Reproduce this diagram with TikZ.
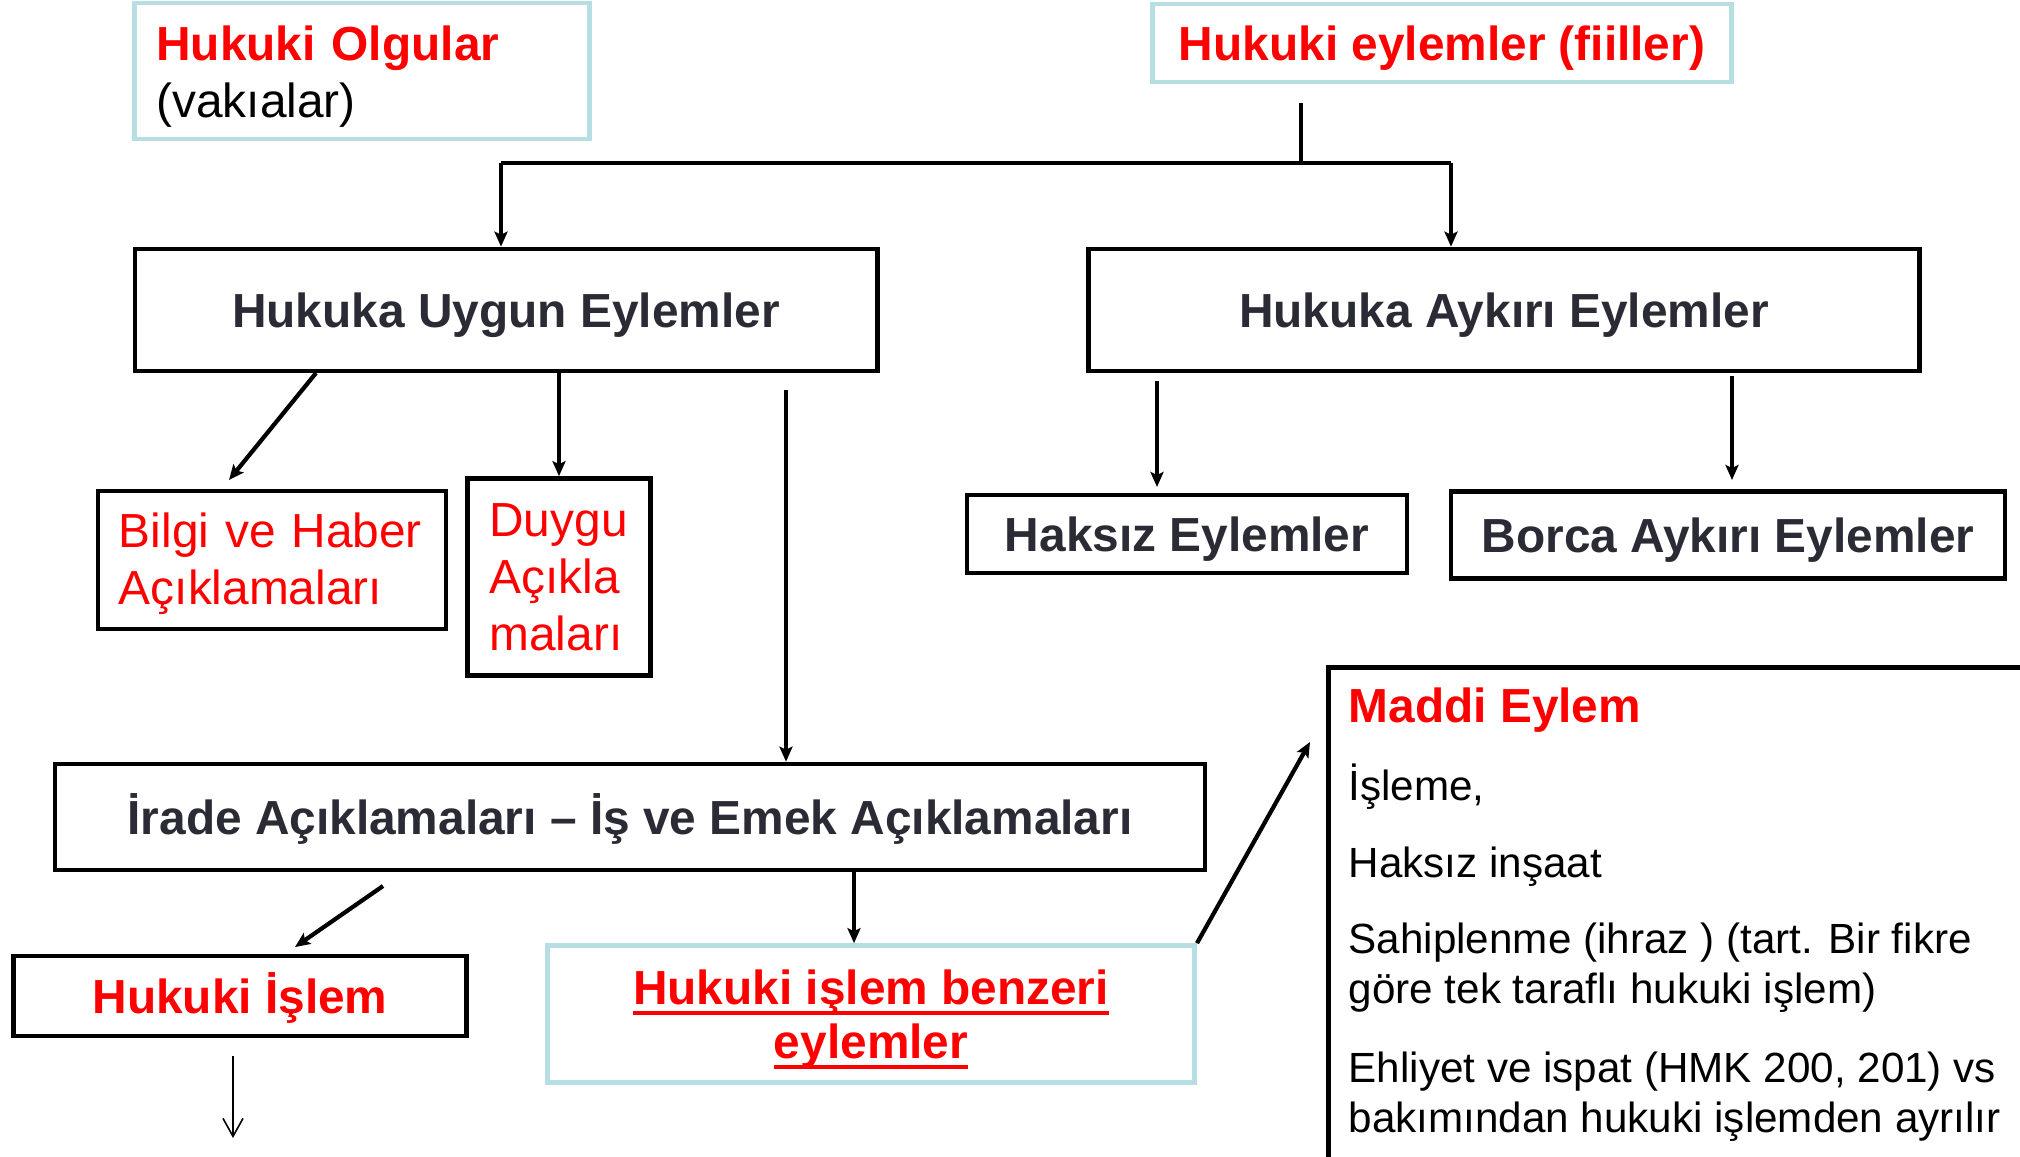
\documentclass[tikz,border=0pt]{standalone}
\usepackage{fontspec}
\setmainfont{Liberation Sans}
\usetikzlibrary{arrows.meta}

\definecolor{hukRed}{HTML}{FF0000}
\definecolor{hukDark}{HTML}{2B2B36}
\definecolor{hukBlue}{HTML}{B7DEE2}

\newcommand{\bigFont}{\fontsize{13.6}{16.2}\selectfont}
\newcommand{\smallFont}{\fontsize{12}{14.2}\selectfont}
\newcommand{\topStrut}[1]{\rule{0pt}{#1}}
\newcommand{\hukUnder}[1]{\leavevmode\setbox0=\hbox{#1}%
  \rlap{\vrule width\wd0 height -1.8pt depth 3pt}\box0}

\begin{document}
\begin{tikzpicture}[%%
  x=0.01cm,y=-0.01cm,%%
  boxStyle/.style={draw=black,line width=1.3pt,inner sep=0pt,font=\bigFont},%%
  blueBoxStyle/.style={draw=hukBlue,line width=1.3pt,inner sep=0pt,font=\bigFont},%%
  oneLine/.style={text height=9.9pt,text depth=0pt},%%
  lineStyle/.style={-,line width=1.2pt},%%
  arrowStyle/.style={-{Stealth[length=0.15cm,width=0.13cm,inset=0.03cm]},line width=1.2pt},%%
  thinArrowStyle/.style={-{Straight Barb[length=0.18cm,width=0.2cm]},line width=0.45pt},%%
  textLine/.style={anchor=base west,inner sep=0pt,font=\smallFont}%%
]
%%
\useasboundingbox (0,0) rectangle (2020,1156);
\clip (0,0) rectangle (2020,1156);
%%
%% Centres of the boxes.
\coordinate (Olgular) at (362,71);
\coordinate (Eylemler) at (1442,43);
\coordinate (Uygun) at (506,310);
\coordinate (Aykiri) at (1504,310);
\coordinate (Bilgi) at (272,560);
\coordinate (Duygu) at (559,577);
\coordinate (Haksiz) at (1187,534);
\coordinate (Borca) at (1728,535);
\coordinate (Irade) at (630,817);
\coordinate (Islem) at (240,996);
\coordinate (Benzeri) at (871,1014);
\coordinate (Maddi) at (1326,665);
%%
%% Free ends of the connectors.
\coordinate (eylemlerFoot) at (1301,103);
\coordinate (split) at (1301,163);
\coordinate (uygunTurn) at (501,163);
\coordinate (aykiriTurn) at (1451,163);
\coordinate (bilgiFrom) at (316,373);
\coordinate (bilgiTo) at (229,480);
\coordinate (iradeFrom) at (786,390);
\coordinate (haksizFrom) at (1157,381);
\coordinate (haksizTo) at (1157,487);
\coordinate (borcaFrom) at (1732,376);
\coordinate (borcaTo) at (1732,480);
\coordinate (islemFrom) at (383,886);
\coordinate (islemTo) at (295,947);
\coordinate (benzeriDown) at (854,875);
\coordinate (islemFoot) at (233,1056);
\coordinate (islemEnd) at (233,1138);
\coordinate (maddiTo) at (1310,742);
%%
%%
%% Boxes.
\node (olgular) at (Olgular) [blueBoxStyle,minimum width=4.55cm,minimum height=1.36cm,%%
  inner xsep=0.22cm,text width=4.11cm,align=left]
  {\topStrut{12.8pt}{\color{hukRed}\bfseries Hukuki Olgular}\\(vakıalar)};
\node (eylemler) at (Eylemler) [blueBoxStyle,oneLine,minimum width=5.79cm,minimum height=0.78cm,%%
  text=hukRed,font=\bigFont\bfseries] {Hukuki eylemler (fiiller)};
\node (uygun) at (Uygun) [boxStyle,oneLine,minimum width=7.42cm,minimum height=1.22cm,%%
  text=hukDark,font=\bigFont\bfseries] {Hukuka Uygun Eylemler};
\node (aykiri) at (Aykiri) [boxStyle,oneLine,minimum width=8.31cm,minimum height=1.22cm,%%
  text=hukDark,font=\bigFont\bfseries] {Hukuka Aykırı Eylemler};
\node (bilgi) at (Bilgi) [boxStyle,minimum width=3.48cm,minimum height=1.38cm,%%
  inner xsep=0.21cm,text width=3.06cm,align=left,text=hukRed]
  {\topStrut{12.2pt}Bilgi ve Haber\\Açıklamaları};
\node (duygu) at (Duygu) [boxStyle,minimum width=1.83cm,minimum height=1.97cm,%%
  inner xsep=0.22cm,text width=1.39cm,align=left,text=hukRed]
  {Duygu\\Açıkla\\maları};
\node (haksiz) at (Haksiz) [boxStyle,oneLine,minimum width=4.40cm,minimum height=0.78cm,%%
  text=hukDark,font=\bigFont\bfseries] {Haksız Eylemler};
\node (borca) at (Borca) [boxStyle,oneLine,minimum width=5.54cm,minimum height=0.87cm,%%
  text=hukDark,font=\bigFont\bfseries] {Borca Aykırı Eylemler};
\node (irade) at (Irade) [boxStyle,oneLine,minimum width=11.49cm,minimum height=1.06cm,%%
  text=hukDark,font=\bigFont\bfseries] {İrade Açıklamaları – İş ve Emek Açıklamaları};
\node (islem) at (Islem) [boxStyle,oneLine,minimum width=4.53cm,minimum height=0.80cm,%%
  text=hukRed,font=\bigFont\bfseries] {Hukuki İşlem};
\node (benzeri) at (Benzeri) [blueBoxStyle,minimum width=6.47cm,minimum height=1.37cm,%%
  align=center,text=hukRed,font=\fontsize{13.6}{15.4}\selectfont\bfseries]
  {\topStrut{12.9pt}\hukUnder{Hukuki işlem benzeri}\\\hukUnder{eylemler}};
\node (maddi) at (Maddi) [boxStyle,anchor=north west,minimum width=8cm,minimum height=6cm] {};
%%
%% Text of the Maddi Eylem box.
\node (maddiTitle) at (1348,722) [textLine,text=hukRed,font=\bigFont\bfseries] {Maddi Eylem};
\node (maddiA) at (1348,800) [textLine] {İşleme,};
\node (maddiB) at (1348,877) [textLine] {Haksız inşaat};
\node (maddiC) at (1348,953) [textLine] {Sahiplenme (ihraz ) (tart. Bir fikre};
\node (maddiD) at (1348,1003) [textLine] {göre tek taraflı hukuki işlem)};
\node (maddiE) at (1348,1082) [textLine] {Ehliyet ve ispat (HMK 200, 201) vs};
\node (maddiF) at (1348,1132) [textLine] {bakımından hukuki işlemden ayrılır};
%%
%%
%% Connectors.
\draw[lineStyle] (eylemlerFoot) -- (split);
\draw[lineStyle] (uygunTurn) -- (aykiriTurn);
\draw[arrowStyle] (uygunTurn) -- (uygunTurn |- uygun.north);
\draw[arrowStyle] (aykiriTurn) -- (aykiriTurn |- aykiri.north);
\draw[arrowStyle] (bilgiFrom) -- (bilgiTo);
\draw[arrowStyle] (duygu.north |- uygun.south) -- (duygu.north);
\draw[arrowStyle] (iradeFrom) -- (iradeFrom |- irade.north);
\draw[arrowStyle] (haksizFrom) -- (haksizTo);
\draw[arrowStyle] (borcaFrom) -- (borcaTo);
\draw[arrowStyle] (islemFrom) -- (islemTo);
\draw[arrowStyle] (benzeriDown |- irade.south) -- (benzeriDown |- benzeri.north);
\draw[thinArrowStyle] (islemFoot) -- (islemEnd);
\draw[arrowStyle] (benzeri.north east) -- (maddiTo);
\end{tikzpicture}
\end{document}
